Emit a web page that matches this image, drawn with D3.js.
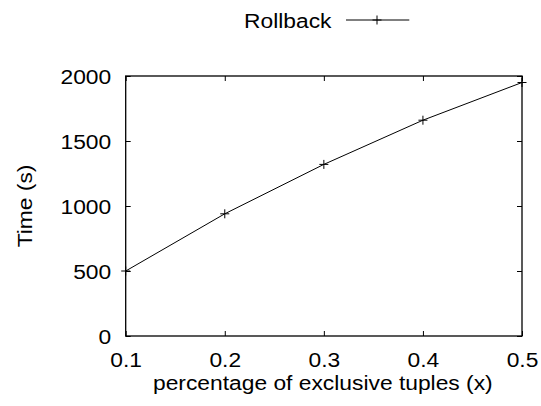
<!DOCTYPE html>
<html><head><meta charset="utf-8">
<script src="https://cdn.jsdelivr.net/npm/d3@7"></script>
<style>body{margin:0;background:#fff}svg text{font-family:"Liberation Sans",Arial,sans-serif;fill:#000}</style>
</head><body>
<svg id="c" width="541" height="406"></svg>
<script>
const xValues = [0.1, 0.2, 0.3, 0.4, 0.5];
const rollback = [500, 940, 1320, 1660, 1950];
const xTicks = [0.1, 0.2, 0.3, 0.4, 0.5];
const yTicks = [0, 500, 1000, 1500, 2000];
const seriesName = "Rollback";
const xTitle = "percentage of exclusive tuples (x)";
const yTitle = "Time (s)";

const svg = d3.select("#c");
const L = 125.7, R = 522, T = 76, B = 336;
const x = d3.scaleLinear().domain([0.1, 0.5]).range([L, R]);
const y = d3.scaleLinear().domain([0, 2000]).range([B, T]);
const FS = 20, STRETCH = 1.14;
function stretch(sel){ sel.each(function(){ const w=this.getComputedTextLength(); this.setAttribute("textLength", w*STRETCH); this.setAttribute("lengthAdjust","spacingAndGlyphs"); }); }

const tk = 5;
// axes with inward ticks
const gx = svg.append("g").attr("transform", `translate(0,${B})`)
  .call(d3.axisBottom(x).tickValues(xTicks).tickSize(-tk).tickPadding(0).tickFormat(d3.format(".1f")));
const gx2 = svg.append("g").attr("transform", `translate(0,${T})`)
  .call(d3.axisTop(x).tickValues(xTicks).tickSize(-tk).tickFormat(""));
const gy = svg.append("g").attr("transform", `translate(${L},0)`)
  .call(d3.axisLeft(y).tickValues(yTicks).tickSize(-tk).tickFormat(d3.format("d")));
const gy2 = svg.append("g").attr("transform", `translate(${R},0)`)
  .call(d3.axisRight(y).tickValues(yTicks).tickSize(-tk).tickFormat(""));
[gx,gx2,gy,gy2].forEach(g=>{ g.select(".domain").remove(); g.selectAll("line").attr("stroke","#000").attr("stroke-width",1); });
gx.selectAll("text").attr("font-size",FS).attr("y",30.7).attr("dy",null).attr("font-family",null);
gy.selectAll("text").attr("font-size",FS).attr("x",-14.5).attr("dy","0.35em").attr("font-family",null);
stretch(gx.selectAll("text")); stretch(gy.selectAll("text"));

svg.append("rect").attr("x",L).attr("y",T).attr("width",R-L).attr("height",B-T)
  .attr("fill","none").attr("stroke","#000").attr("stroke-width",1.3);

// line
const line = d3.line().x((d,i)=>x(xValues[i])).y(d=>y(d));
svg.append("path").datum(rollback).attr("d",line).attr("fill","none").attr("stroke","#000").attr("stroke-width",1);
const m = 4.5;
svg.append("g").selectAll("path").data(rollback).join("path")
  .attr("d",(d,i)=>{const px=x(xValues[i]),py=y(d);return `M${px-m},${py}H${px+m}M${px},${py-m}V${py+m}`;})
  .attr("stroke","#000").attr("stroke-width",1);

// titles
svg.append("text").attr("x",(L+R)/2-1).attr("y",389.5).attr("text-anchor","middle").attr("font-size",FS).text(xTitle).call(stretch);
svg.append("text").attr("transform",`translate(31.5,206) rotate(-90)`).attr("text-anchor","middle").attr("font-size",FS).text(yTitle).call(stretch);

// legend
svg.append("text").attr("x",331.5).attr("y",28.3).attr("text-anchor","end").attr("font-size",FS).text(seriesName).call(stretch);
svg.append("line").attr("x1",346).attr("x2",409.3).attr("y1",20).attr("y2",20).attr("stroke","#000").attr("stroke-width",1);
svg.append("path").attr("d",`M${377-m},20H${377+m}M377,${20-m}V${20+m}`).attr("stroke","#000").attr("stroke-width",1);
</script>
</body></html>
